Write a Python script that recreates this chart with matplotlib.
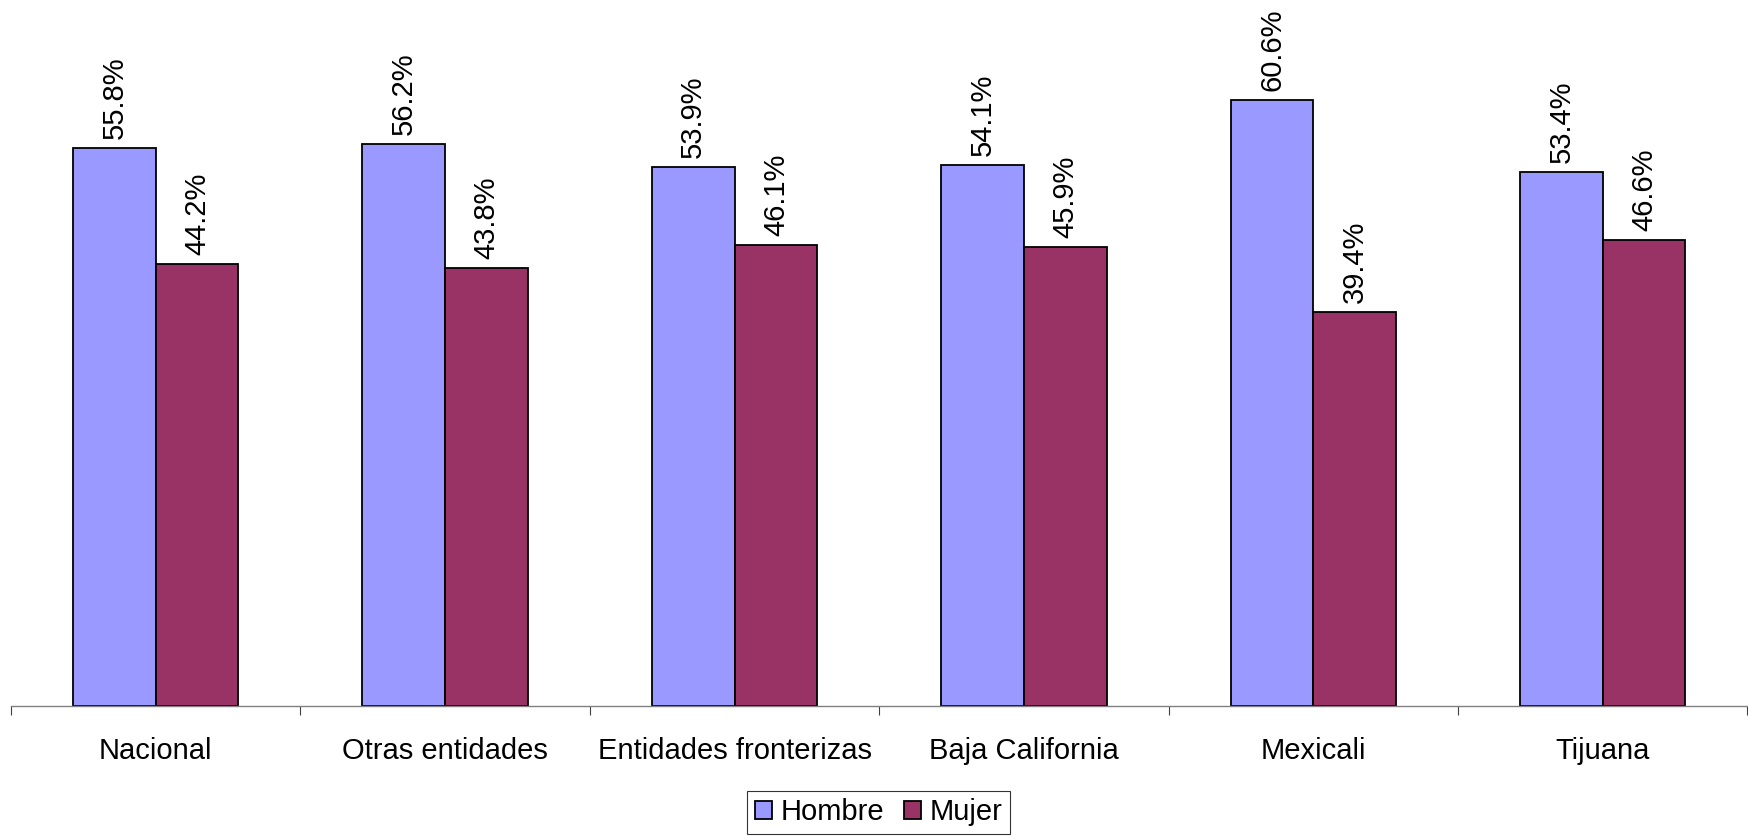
import matplotlib
matplotlib.use("Agg")
import matplotlib.pyplot as plt
import numpy as np

categories = ["Nacional", "Otras entidades", "Entidades fronterizas",
              "Baja California", "Mexicali", "Tijuana"]
hombre = [55.8, 56.2, 53.9, 54.1, 60.6, 53.4]
mujer = [44.2, 43.8, 46.1, 45.9, 39.4, 46.6]
series_names = ["Hombre", "Mujer"]

plt.rcParams['font.family'] = ['Liberation Sans', 'DejaVu Sans']

W, H = 1748, 836
fig = plt.figure(figsize=(W / 100, H / 100), dpi=100)
ax = fig.add_axes([11 / W, (H - 706) / H, 1736.5 / W, 700 / H])

x = np.arange(len(categories))
bw = 1 / 3.5
c_h = "#9999FF"
c_m = "#993366"
b1 = ax.bar(x - bw / 2, hombre, bw, color=c_h, edgecolor="black", linewidth=1.3,
            label=series_names[0])
b2 = ax.bar(x + bw / 2, mujer, bw, color=c_m, edgecolor="black", linewidth=1.3,
            label=series_names[1])

for bars, vals in ((b1, hombre), (b2, mujer)):
    for rect, v in zip(bars, vals):
        ax.annotate(f"{v:.1f}%", (rect.get_x() + rect.get_width() / 2, v),
                    xytext=(0, 6.5), textcoords="offset points",
                    ha="center", va="bottom", rotation=90, fontsize=21)

ax.set_xlim(-0.5, len(categories) - 0.5)
ax.set_ylim(0, 70)
ax.set_yticks([])
for s in ("left", "right", "top"):
    ax.spines[s].set_visible(False)
ax.spines["bottom"].set_color("#808080")
ax.spines["bottom"].set_linewidth(1.0)

ax.set_xticks(np.arange(len(categories) + 1) - 0.5, minor=False)
ax.set_xticklabels([])
ax.tick_params(axis="x", which="major", length=6.5, width=0.8, color="#404040",
               direction="out")
ax.set_xticks(x, minor=True)
ax.set_xticklabels(categories, minor=True, fontsize=21)
ax.tick_params(axis="x", which="minor", length=0, pad=22)

leg = fig.legend(handles=[b1, b2], labels=series_names, loc="upper center",
                 bbox_to_anchor=(878.7 / W, 1 - 791 / H), ncol=2, fontsize=21,
                 frameon=True, fancybox=False, shadow=False,
                 handlelength=0.6, handleheight=0.6, handletextpad=0.3,
                 columnspacing=0.65, borderpad=0.25, borderaxespad=0)
leg.get_frame().set_edgecolor("black")
leg.get_frame().set_linewidth(0.8)

fig.savefig("out.png", dpi=100, facecolor="white")
